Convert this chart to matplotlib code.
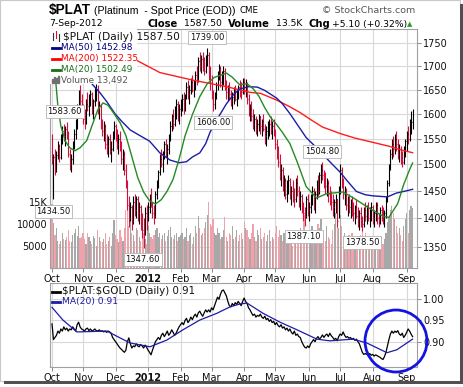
import numpy as np
import pandas as pd
import matplotlib
matplotlib.use("Agg")
import matplotlib.pyplot as plt
from matplotlib.patches import Rectangle, Ellipse
from matplotlib.lines import Line2D

plt.rcParams['font.family'] = ['DejaVu Sans']

W, H = 464, 387

# ---- data ----
dates = pd.bdate_range("2011-10-03", "2012-09-07")
month_labels = ['Oct', 'Nov', 'Dec', '2012', 'Feb', 'Mar', 'Apr', 'May',
                'Jun', 'Jul', 'Aug', 'Sep']

highs = [
    1560, 1520, 1530, 1525, 1545, 1540, 1560, 1575, 1580, 1575, 1583.6, 1565, 1530, 1520, 1545, 1570, 1590, 1620, 1650, 1660, 1640,
    1620, 1610, 1630, 1645, 1640, 1650, 1645, 1630, 1655, 1662, 1660, 1625, 1620, 1590, 1585, 1580, 1560, 1555, 1560, 1545, 1565, 1585,
    1580, 1570, 1560, 1565, 1545, 1530, 1525, 1500, 1470, 1440, 1430, 1425, 1440, 1445, 1440, 1440, 1430, 1425, 1410, 1400, 1420, 1425,
    1430, 1445, 1455, 1430, 1425, 1450, 1470, 1490, 1520, 1530, 1525, 1545, 1550, 1540, 1560, 1585, 1600, 1610, 1615, 1630, 1625, 1620,
    1630, 1640, 1645, 1640, 1665, 1670, 1660, 1675, 1680, 1670, 1690, 1700, 1720, 1730, 1725, 1730, 1720, 1725, 1739, 1730, 1700,
    1680, 1650, 1645, 1665, 1690, 1705, 1700, 1690, 1700, 1695, 1670, 1660, 1665, 1650, 1645, 1655, 1660, 1650, 1660, 1670, 1665, 1675,
    1675, 1672, 1665, 1640, 1620, 1625, 1610, 1600, 1595, 1590, 1600, 1595, 1590, 1600, 1580, 1575, 1585, 1590, 1595, 1585, 1590,
    1570, 1550, 1535, 1520, 1500, 1495, 1480, 1475, 1470, 1480, 1475, 1460, 1470, 1455, 1475, 1480, 1460, 1450, 1445, 1430, 1420, 1440, 1445,
    1430, 1445, 1460, 1455, 1450, 1470, 1480, 1485, 1500, 1504.8, 1490, 1485, 1475, 1470, 1460, 1450, 1445, 1435, 1445, 1435, 1460,
    1500, 1495, 1475, 1460, 1455, 1440, 1445, 1435, 1440, 1430, 1425, 1435, 1420, 1415, 1420, 1405, 1420, 1430, 1425, 1430, 1420, 1430,
    1425, 1415, 1430, 1430, 1410, 1420, 1425, 1420, 1415, 1440, 1470, 1500, 1530, 1550, 1555, 1560, 1565, 1550, 1540, 1535, 1525, 1535, 1550,
    1565, 1575, 1590, 1605, 1610,
]
lows = [
    1500, 1434.5, 1480, 1485, 1510, 1505, 1510, 1540, 1545, 1535, 1550, 1515, 1490, 1485, 1500, 1530, 1550, 1570, 1600, 1615, 1595,
    1580, 1570, 1580, 1605, 1595, 1615, 1600, 1590, 1615, 1625, 1600, 1590, 1570, 1555, 1545, 1530, 1520, 1515, 1520, 1505, 1525, 1550,
    1545, 1530, 1520, 1525, 1500, 1490, 1480, 1455, 1415, 1385, 1395, 1380, 1390, 1405, 1400, 1395, 1390, 1380, 1365, 1347.6, 1370, 1380,
    1395, 1410, 1420, 1400, 1390, 1400, 1435, 1455, 1480, 1495, 1485, 1510, 1515, 1500, 1520, 1545, 1565, 1570, 1575, 1590, 1585, 1580,
    1595, 1605, 1600, 1605, 1630, 1630, 1620, 1640, 1645, 1635, 1650, 1660, 1665, 1690, 1685, 1690, 1680, 1685, 1700, 1670, 1650,
    1630, 1606, 1610, 1630, 1650, 1670, 1655, 1650, 1660, 1650, 1630, 1625, 1630, 1615, 1610, 1620, 1625, 1615, 1630, 1635, 1630, 1640,
    1640, 1635, 1620, 1595, 1585, 1585, 1570, 1565, 1560, 1555, 1565, 1560, 1555, 1565, 1540, 1535, 1550, 1555, 1560, 1550, 1555,
    1530, 1510, 1495, 1470, 1460, 1450, 1440, 1435, 1430, 1445, 1435, 1425, 1430, 1420, 1430, 1440, 1420, 1415, 1410, 1395, 1387.1, 1400, 1405,
    1395, 1410, 1425, 1415, 1410, 1435, 1440, 1445, 1465, 1470, 1455, 1445, 1440, 1430, 1425, 1415, 1405, 1400, 1410, 1385, 1400,
    1445, 1455, 1435, 1425, 1415, 1405, 1410, 1400, 1405, 1395, 1390, 1400, 1385, 1380, 1385, 1378.5, 1385, 1395, 1390, 1395, 1385, 1395,
    1390, 1385, 1395, 1390, 1385, 1390, 1395, 1390, 1385, 1400, 1430, 1460, 1490, 1510, 1515, 1520, 1525, 1510, 1505, 1500, 1495, 1500, 1515,
    1525, 1540, 1545, 1560, 1570,
]
closes = [
    1510, 1515, 1490, 1518, 1535, 1515, 1550, 1565, 1555, 1570, 1560, 1520, 1500, 1510, 1540, 1560, 1580, 1610, 1645, 1625, 1605,
    1590, 1585, 1620, 1615, 1630, 1640, 1610, 1625, 1645, 1650, 1610, 1615, 1580, 1565, 1575, 1540, 1535, 1550, 1525, 1530, 1560, 1575,
    1555, 1540, 1550, 1530, 1510, 1520, 1490, 1465, 1425, 1400, 1420, 1395, 1430, 1415, 1435, 1410, 1420, 1395, 1380, 1370, 1410, 1395,
    1420, 1440, 1425, 1410, 1405, 1445, 1465, 1485, 1510, 1500, 1520, 1540, 1525, 1530, 1555, 1575, 1595, 1580, 1605, 1620, 1600, 1610,
    1620, 1630, 1610, 1635, 1655, 1640, 1650, 1665, 1650, 1660, 1680, 1670, 1710, 1700, 1715, 1700, 1690, 1715, 1725, 1680, 1665,
    1640, 1620, 1640, 1660, 1685, 1695, 1665, 1680, 1690, 1660, 1645, 1650, 1640, 1625, 1635, 1645, 1630, 1640, 1655, 1650, 1645, 1665,
    1650, 1660, 1630, 1600, 1610, 1595, 1580, 1590, 1570, 1580, 1595, 1575, 1585, 1570, 1555, 1565, 1575, 1580, 1570, 1575, 1565,
    1540, 1520, 1505, 1480, 1490, 1460, 1470, 1445, 1460, 1470, 1445, 1450, 1440, 1435, 1465, 1450, 1430, 1440, 1420, 1410, 1405, 1435, 1415,
    1420, 1440, 1450, 1430, 1445, 1465, 1450, 1480, 1490, 1480, 1475, 1460, 1465, 1445, 1440, 1430, 1420, 1430, 1435, 1395, 1450,
    1490, 1465, 1445, 1450, 1425, 1430, 1420, 1425, 1415, 1410, 1420, 1405, 1400, 1410, 1395, 1390, 1415, 1405, 1420, 1400, 1410, 1420,
    1400, 1410, 1425, 1400, 1395, 1415, 1405, 1400, 1410, 1435, 1465, 1495, 1520, 1540, 1530, 1550, 1540, 1520, 1530, 1510, 1505, 1530, 1545,
    1560, 1550, 1575, 1582.4, 1587.5,
]
volume_k = [
    14.5, 10.2, 7.5, 9.0, 6.0, 5.5, 6.2, 8.0, 6.5, 6.3, 7.0, 8.5, 6.0, 5.8, 7.5, 8.0, 8.8, 7.2, 9.5, 6.8, 7.0,
    7.8, 6.5, 5.5, 8.0, 7.0, 6.0, 5.5, 7.2, 6.8, 5.0, 8.5, 7.0, 6.2, 5.8, 6.5, 7.8, 5.5, 6.0, 7.0, 5.0, 8.0, 10.8,
    7.5, 6.5, 5.8, 8.5, 7.0, 6.0, 9.0, 13.0, 14.5, 9.5, 12.0, 8.0, 7.5, 6.0, 9.0, 8.5, 7.0, 6.0, 10.0, 8.0, 6.5, 5.5,
    9.5, 8.0, 7.0, 6.5, 7.5, 8.5, 9.0, 7.0, 8.0, 6.5, 7.5, 8.0, 6.0, 7.2, 8.5, 9.2, 7.0, 6.5, 7.5, 8.0, 6.0, 7.0,
    7.5, 8.0, 6.5, 7.0, 9.0, 6.0, 7.5, 8.0, 5.5, 7.0, 9.5, 8.0, 11.8, 9.0, 7.5, 8.0, 9.0, 10.5, 12.0, 15.0, 10.0,
    9.5, 11.0, 8.0, 7.5, 9.0, 8.0, 6.5, 7.0, 8.5, 11.5, 7.0, 6.0, 8.0, 7.5, 9.5, 6.5, 7.0, 8.5, 6.0, 7.5, 8.0, 6.5,
    10.5, 9.0, 8.5, 7.0, 6.5, 8.0, 10.0, 7.0, 6.0, 8.5, 7.5, 9.0, 6.5, 7.0, 8.0, 6.0, 7.5, 8.5, 6.0, 7.0, 6.5,
    8.0, 9.5, 7.0, 8.5, 7.5, 6.0, 8.0, 6.5, 7.0, 5.5, 6.0, 7.5, 5.0, 6.5, 8.0, 7.0, 5.5, 9.0, 7.0, 10.5, 12.0, 8.0, 6.5,
    7.0, 8.5, 9.5, 8.0, 6.5, 7.0, 10.0, 9.0, 11.0, 8.0, 7.5, 6.0, 9.5, 7.0, 6.5, 5.5, 8.5, 10.0, 12.5, 11.0, 9.0,
    12.0, 9.5, 7.0, 8.0, 6.5, 5.5, 7.5, 6.0, 8.0, 5.0, 6.5, 7.0, 6.0, 5.5, 7.5, 9.0, 6.0, 8.0, 7.0, 5.5, 6.5, 7.0,
    6.0, 5.5, 7.0, 6.5, 5.0, 6.0, 7.0, 5.5, 6.5, 8.0, 10.5, 11.5, 13.0, 14.0, 12.5, 11.0, 9.5, 8.0, 9.0, 7.5, 6.0, 9.5, 11.0,
    12.5, 8.0, 13.0, 14.0, 13.492,
]
ratio = [
    0.942, 0.905, 0.91, 0.915, 0.925, 0.92, 0.93, 0.925, 0.935, 0.928, 0.932, 0.925, 0.93, 0.928, 0.935, 0.93, 0.925, 0.94, 0.946, 0.935, 0.93,
    0.928, 0.925, 0.93, 0.932, 0.926, 0.93, 0.925, 0.927, 0.93, 0.926, 0.925, 0.928, 0.924, 0.926, 0.923, 0.925, 0.922, 0.925, 0.923,
    0.92, 0.91, 0.905, 0.9, 0.895, 0.89, 0.885, 0.882, 0.878, 0.875, 0.88, 0.9, 0.909,
    0.895, 0.885, 0.89, 0.888, 0.895, 0.89, 0.888, 0.893, 0.89, 0.885, 0.892, 0.887, 0.88, 0.875, 0.869,
    0.88, 0.89, 0.9, 0.905, 0.91, 0.905, 0.915, 0.92, 0.912, 0.918, 0.925, 0.915, 0.92, 0.928, 0.922, 0.915, 0.92, 0.928,
    0.935, 0.94, 0.945, 0.94, 0.95, 0.955, 0.945, 0.95, 0.958, 0.952, 0.96, 0.965, 0.958, 0.968, 0.972, 0.965, 0.96, 0.968, 0.975, 0.97,
    0.975, 0.97, 0.98, 0.975, 0.985, 0.995, 1.005, 1.0, 1.012, 1.02, 1.022, 1.015,
    1.008, 0.995, 0.985, 0.982, 0.99,
    0.985, 0.992, 0.988, 0.995, 0.99, 0.985, 0.995, 1.003, 0.995, 0.99,
    0.98, 0.975, 0.968, 0.962, 0.965, 0.958, 0.962, 0.96, 0.965, 0.958, 0.955,
    0.96, 0.952, 0.955, 0.948, 0.952, 0.945, 0.948, 0.94, 0.945, 0.938, 0.935, 0.94, 0.932, 0.935, 0.928, 0.932, 0.925, 0.93, 0.922, 0.918, 0.925, 0.915, 0.918, 0.912, 0.91,
    0.9, 0.893, 0.887, 0.885, 0.89, 0.886,
    0.895, 0.9, 0.905, 0.9, 0.908, 0.912, 0.906, 0.91, 0.916, 0.91, 0.915, 0.918, 0.912, 0.92, 0.914, 0.91,
    0.905, 0.908, 0.902, 0.912, 0.918, 0.915, 0.923, 0.915, 0.91, 0.912, 0.908, 0.91, 0.905, 0.908, 0.903, 0.906, 0.9, 0.895,
    0.885, 0.875, 0.87, 0.872,
    0.87, 0.868, 0.872, 0.868, 0.87, 0.866, 0.869, 0.867, 0.865, 0.863, 0.86, 0.858,
    0.865, 0.875, 0.89, 0.905, 0.918, 0.925,
    0.92, 0.925, 0.922, 0.926, 0.918, 0.915, 0.92, 0.91, 0.915,
    0.922, 0.93, 0.925, 0.918, 0.912,
]

# moving averages at bar positions
ma20_idx = [2.5, 4, 6, 9, 12, 15.5, 19, 23.5, 27, 31, 34.5, 38, 42, 46, 50, 54, 58, 62, 66, 70, 74, 78, 82, 86, 90, 95, 100,
            105, 110, 114, 118, 122, 127, 132, 136, 140, 144, 148, 152, 156, 161, 166, 172, 179, 186, 197, 204, 215, 224,
            228, 234, 238, 242, 244]
ma20_val = [1668, 1615, 1575, 1545, 1532, 1526, 1532, 1546, 1575, 1608, 1622, 1617, 1600, 1582, 1556, 1515, 1475, 1448, 1432,
            1426, 1434, 1450, 1472, 1510, 1555, 1598, 1635, 1662, 1676, 1680, 1685, 1676, 1660, 1662, 1652, 1636, 1612, 1592,
            1578, 1562, 1540, 1504, 1458, 1437, 1445, 1448, 1437, 1418, 1404, 1402, 1427, 1462, 1490, 1502.49]
ma50_idx = [22, 27, 32.5, 37, 42.6, 47, 53, 60, 66, 73, 80, 86, 91, 95, 100, 104, 107, 112, 118, 123, 127, 133, 139, 144,
            148, 152, 156, 161, 166, 172, 178, 183, 189, 195, 200, 206, 212, 217, 222, 227, 233, 238, 244]
ma50_val = [1677, 1662, 1643, 1625, 1600, 1585, 1567, 1555, 1545, 1522, 1508, 1503, 1505, 1514, 1522, 1540, 1563, 1590, 1620,
            1640, 1651, 1656, 1655, 1648, 1640, 1632, 1620, 1600, 1578, 1552, 1535, 1520, 1502, 1485, 1468, 1449, 1443, 1441,
            1440, 1439, 1446, 1449, 1452.98]
ma200_idx = [57.5, 73, 95, 118, 134, 141, 152, 161, 168, 175, 183, 195, 205, 215, 228, 236, 244]
ma200_val = [1712, 1686, 1670, 1656, 1644, 1642, 1628, 1614, 1602, 1588, 1573, 1560, 1551, 1544, 1535, 1528, 1522.35]
ratio_ma_idx = [0, 7.4, 16.9, 37.2, 46, 52.8, 66.3, 77.8, 88.6, 100, 111.6, 120.4, 127.2, 132, 142.8, 154.3, 165.8, 179.3,
                188, 203.7, 213, 226.7, 233.4, 244]
ratio_ma_val = [0.981, 0.951, 0.923, 0.925, 0.909, 0.897, 0.888, 0.904, 0.928, 0.951, 0.967, 0.982, 0.989, 0.991, 0.967,
                0.946, 0.928, 0.906, 0.902, 0.906, 0.897, 0.874, 0.881, 0.906]

price_ticks = [1350, 1400, 1450, 1500, 1550, 1600, 1650, 1700, 1750]
vol_ticks = [5000, 10000, 15000]
vol_tick_labels = ['5000', '10000', '15K']
ratio_ticks = [0.90, 0.95, 1.00]

# swing labels: (bar index, value, text, dx, dy) offsets in pixels
swing_labels = [
    (105, 1739.0, '1739.00', 0, 11),
    (109, 1606.0, '1606.00', 0, -12),
    (10, 1583.6, '1583.60', -2, 10),
    (1, 1434.5, '1434.50', 0, -12),
    (62, 1347.6, '1347.60', -1, -11),
    (171, 1387.1, '1387.10', -1, -11),
    (183, 1504.8, '1504.80', 0, 10),
    (210, 1378.5, '1378.50', 0, -12),
]

RED = '#d2103c'
GRID = '#d8d8d8'
FRAME = '#a0a0a0'

x = np.arange(len(closes))
c = np.array(closes)
up = np.r_[False, c[1:] >= c[:-1]]
bar_cols = np.where(up, 'black', RED)
vol_cols = np.where(up, '#a8a8a8', '#eea2aa')
month_pos = [i for i in range(len(dates)) if i == 0 or dates[i].month != dates[i - 1].month]


def fx(px):
    return px / W


def fy(py):
    return 1 - py / H


fig = plt.figure(figsize=(W / 100, H / 100), dpi=100)


def ftext(px, py, s, **kw):
    kw.setdefault('va', 'center')
    return fig.text(fx(px), fy(py), s, **kw)


def style_axes(a):
    for sp in a.spines.values():
        sp.set_color(FRAME)
        sp.set_linewidth(0.8)
    a.set_xlim(-1.35, 247.0)
    a.set_xticks(month_pos, labels=month_labels)
    for lbl in a.get_xticklabels():
        if lbl.get_text() == '2012':
            lbl.set_fontweight('bold')
    a.tick_params(axis='both', labelsize=7, length=3, width=0.7, color='#888888', pad=1.5,
                  labelcolor='#111111')
    a.set_axisbelow(True)
    a.grid(True, color=GRID, lw=0.8)


# ---- price panel ----
ax = fig.add_axes([fx(50), fy(268), 367 / W, 239 / H])
ax.set_yscale('log')
ax.set_ylim(1314.4, 1782.2)
style_axes(ax)
ax.set_yticks(price_ticks, labels=[str(t) for t in price_ticks])
ax.yaxis.set_minor_locator(plt.NullLocator())

# volume drawn into the price panel, scaled against the left volume axis
vol_top = 54000
ax.bar(x, np.array(volume_k) * 1000 / vol_top, width=0.8, bottom=0, color=vol_cols, linewidth=0,
       transform=ax.get_xaxis_transform(), zorder=1)

ax.vlines(x, lows, highs, colors=bar_cols, lw=0.8, zorder=3)
ax.hlines(closes, x, x + 0.6, colors=bar_cols, lw=0.8, zorder=3)

ax.plot(ma200_idx, ma200_val, color='#ff1c1c', lw=1.0, zorder=4)
ax.plot(ma50_idx, ma50_val, color='#1c1ca8', lw=1.0, zorder=4)
ax.plot(ma20_idx, ma20_val, color='#248a24', lw=1.0, zorder=4)

for i, v, s, dx, dy in swing_labels:
    ax.annotate(s, xy=(i, v), xytext=(dx, dy), textcoords='offset pixels', ha='center', va='center',
                fontsize=6, color='#111111', zorder=8, annotation_clip=False,
                bbox=dict(boxstyle='square,pad=0.22', fc='white', ec='#b4b4b4', lw=0.6))

# legend background hides the lines underneath
ax.add_patch(Rectangle((fx(50), fy(84)), 87 / W, 55 / H, transform=fig.transFigure, fc='white',
                       ec='none', zorder=6))

axv = ax.twinx()
axv.set_ylim(0, vol_top)
axv.yaxis.tick_left()
axv.set_yticks(vol_ticks, labels=vol_tick_labels)
axv.tick_params(axis='y', labelsize=7, length=0, pad=2, labelcolor='#111111')
for sp in axv.spines.values():
    sp.set_visible(False)
# twinx moves the price ticks to the left; put them back on the right
ax.yaxis.tick_right()
ax.tick_params(axis='y', labelsize=7, length=3, width=0.7, color='#888888', pad=1.5, labelcolor='#111111')

# legend texts
fig.add_artist(Line2D([fx(53), fx(53)], [fy(33), fy(40)], color='#333333', lw=0.8))
fig.add_artist(Line2D([fx(56), fx(56)], [fy(31), fy(38)], color=RED, lw=0.8))
fig.add_artist(Line2D([fx(59), fx(59)], [fy(34), fy(41)], color='#333333', lw=0.8))
ftext(63, 36.5, r'\$PLAT (Daily) 1587.50', fontsize=7.6, color='#111111')
legend_rows = [
    (47.5, 'MA(50) 1452.98', '#000080'),
    (58.5, 'MA(200) 1522.35', '#ff0000'),
    (69.5, 'MA(20) 1502.49', '#1a6e1a'),
]
for py, s, col in legend_rows:
    fig.add_artist(Line2D([fx(52), fx(60)], [fy(py), fy(py)], color=col, lw=2.0))
    ftext(61.5, py, s, fontsize=6.4, color=col)
for k, hgt in enumerate([4, 6, 5, 7]):
    fig.add_artist(Rectangle((fx(52 + k * 2), fy(83)), 1.3 / W, hgt / H, color='#707070'))
ftext(61.5, 80, 'Volume 13,492', fontsize=6.4, color='#555555')

# ---- ratio panel ----
ax2 = fig.add_axes([fx(50), fy(367), 367 / W, 84 / H])
ax2.set_ylim(0.8403, 1.0384)
style_axes(ax2)
ax2.yaxis.tick_right()
ax2.set_yticks(ratio_ticks, labels=['%.2f' % t for t in ratio_ticks])
ax2.plot(x, ratio, color='black', lw=0.9, zorder=3)
ax2.plot(ratio_ma_idx, ratio_ma_val, color='#1c1ca8', lw=0.9, zorder=4)

fig.add_artist(Line2D([fx(52), fx(60)], [fy(291.5), fy(291.5)], color='black', lw=2.0))
ftext(62, 291.5, r'\$PLAT:\$GOLD (Daily) 0.91', fontsize=7.4, color='#111111')
fig.add_artist(Line2D([fx(52), fx(60)], [fy(301.5), fy(301.5)], color='#1c1ca8', lw=2.0))
ftext(62, 301.5, 'MA(20) 0.91', fontsize=6.6, color='#1c1ca8')

fig.add_artist(Ellipse((fx(396), fy(341)), 62 / W, 62 / H, fill=False, ec='#1414e0', lw=2.0, zorder=20))

# ---- header ----
ftext(49, 10, r'\$PLAT', fontsize=9.8, fontweight='bold', family='Liberation Sans')
ftext(94, 10.5, '(Platinum  - Spot Price (EOD))', fontsize=7.6, family='Liberation Sans')
ftext(240, 10.5, 'CME', fontsize=6.2)
ftext(415, 10.5, '\u00a9 StockCharts.com', fontsize=6.8, color='#555555', ha='right')
ftext(49, 24, '7-Sep-2012', fontsize=6.7)
for px, s, bold in [(148, 'Close', True), (184, '1587.50', False), (228, 'Volume', True),
                    (276, '13.5K', False), (309, 'Chg', True), (332, '+5.10 (+0.32%)', False)]:
    ftext(px, 24, s, fontsize=7.2 if bold else 6.7, fontweight='bold' if bold else 'normal')
ftext(407, 24, '\u25b2', fontsize=5, color='#2a9a2a')

# picture frame with drop shadow
fig.add_artist(Rectangle((0, fy(381)), fx(460), 1 - fy(381), fill=False, ec='#c8c8c8', lw=0.8))
fig.add_artist(Rectangle((fx(460), fy(384)), 3 / W, fy(4) - fy(384), color='#505050', lw=0))
fig.add_artist(Rectangle((fx(4), fy(384)), fx(460) - fx(4), 3 / H, color='#505050', lw=0))

fig.savefig('out.png', dpi=100)
